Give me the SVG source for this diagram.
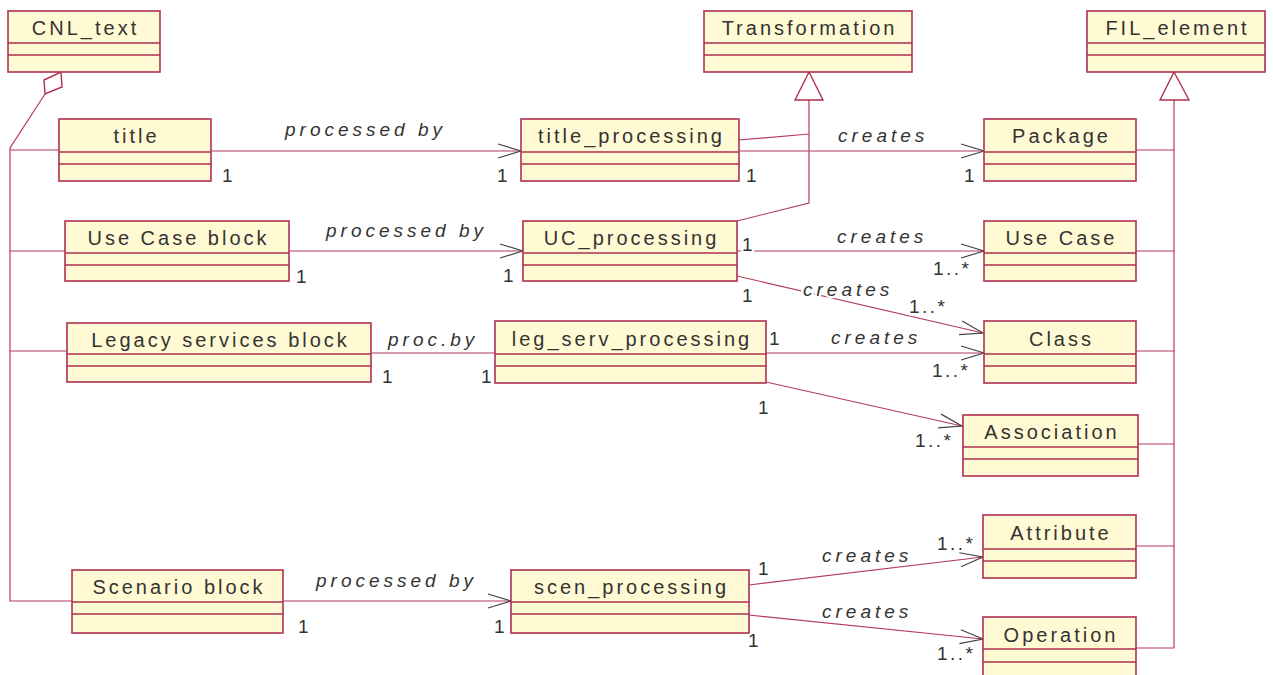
<svg xmlns="http://www.w3.org/2000/svg" width="1273" height="675" viewBox="0 0 1273 675">
<defs>
<style>
.box{fill:#FFFAD4;stroke:#B0304F;stroke-width:1.6}
.div{stroke:#B0304F;stroke-width:1.4;fill:none}
.ln{stroke:#B53A5C;stroke-width:1.2;fill:none}
.nm{font-family:"Liberation Sans",Arial,sans-serif;font-size:20px;letter-spacing:3px;fill:#333;text-anchor:middle}
.lb{font-family:"Liberation Sans",Arial,sans-serif;font-size:19px;font-style:italic;letter-spacing:4px;fill:#333}
.m{font-family:"Liberation Sans",Arial,sans-serif;font-size:19px;letter-spacing:2.5px;fill:#333}
.halo{stroke:#fff;stroke-width:5;paint-order:stroke;stroke-linejoin:round}
.tri{fill:#fff;stroke:#B0304F;stroke-width:1.4}
</style>
<marker id="arr" markerUnits="userSpaceOnUse" markerWidth="30" markerHeight="20" viewBox="-26 -10 30 20" refX="0" refY="0" orient="auto">
<path d="M-23,-7 L0,0 L-23,7" fill="none" stroke="#444" stroke-width="1.2"/>
</marker>
</defs>
<rect width="1273" height="675" fill="#fff"/>

<g id="connectors">
<!-- aggregation tree -->
<polygon points="61,72 62,87 45,94 44,80" fill="#fff" stroke="#B0304F" stroke-width="1.4"/>
<polyline class="ln" points="45,94 10,148 10,601 72,601"/>
<line class="ln" x1="10" y1="150" x2="59" y2="150"/>
<line class="ln" x1="10" y1="251" x2="65" y2="251"/>
<line class="ln" x1="10" y1="351" x2="67" y2="351"/>
<!-- Transformation generalization -->
<polyline class="ln" points="739,140 809,134"/>
<polyline class="ln" points="737,221 809,203 809,100"/>
<polygon class="tri" points="809,72 823,100 795,100"/>
<!-- FIL_element generalization -->
<line class="ln" x1="1174" y1="100" x2="1174" y2="648"/>
<polygon class="tri" points="1174,72 1189,100 1160,100"/>
<line class="ln" x1="1136" y1="150" x2="1174" y2="150"/>
<line class="ln" x1="1136" y1="251" x2="1174" y2="251"/>
<line class="ln" x1="1136" y1="351" x2="1174" y2="351"/>
<line class="ln" x1="1138" y1="444" x2="1174" y2="444"/>
<line class="ln" x1="1136" y1="546" x2="1174" y2="546"/>
<line class="ln" x1="1136" y1="648" x2="1174" y2="648"/>
<!-- associations -->
<line class="ln" x1="211" y1="151" x2="521" y2="151" marker-end="url(#arr)"/>
<line class="ln" x1="739" y1="151" x2="984" y2="151" marker-end="url(#arr)"/>
<line class="ln" x1="289" y1="251" x2="523" y2="251" marker-end="url(#arr)"/>
<line class="ln" x1="737" y1="251" x2="984" y2="251" marker-end="url(#arr)"/>
<line class="ln" x1="737" y1="276" x2="983" y2="333" marker-end="url(#arr)"/>
<line class="ln" x1="371" y1="353" x2="495" y2="353"/>
<line class="ln" x1="766" y1="353" x2="984" y2="353" marker-end="url(#arr)"/>
<line class="ln" x1="766" y1="382" x2="962" y2="426" marker-end="url(#arr)"/>
<line class="ln" x1="283" y1="601" x2="511" y2="601" marker-end="url(#arr)"/>
<line class="ln" x1="749" y1="585" x2="983" y2="557" marker-end="url(#arr)"/>
<line class="ln" x1="749" y1="615" x2="983" y2="639" marker-end="url(#arr)"/>
<!-- labels -->
<text class="lb" x="285" y="136">processed by</text>
<text class="lb halo" x="838" y="142">creates</text>
<text class="lb" x="326" y="237">processed by</text>
<text class="lb halo" x="837" y="243">creates</text>
<text class="lb halo" x="803" y="296">creates</text>
<text class="lb" x="388" y="346">proc.by</text>
<text class="lb halo" x="831" y="344">creates</text>
<text class="lb" x="316" y="587">processed by</text>
<text class="lb halo" x="822" y="562">creates</text>
<text class="lb halo" x="822" y="618">creates</text>
<!-- multiplicities -->
<text class="m" x="222" y="182">1</text>
<text class="m" x="497" y="182">1</text>
<text class="m" x="746" y="182">1</text>
<text class="m" x="964" y="182">1</text>
<text class="m" x="296" y="283">1</text>
<text class="m" x="503" y="282">1</text>
<text class="m halo" x="742" y="251">1</text>
<text class="m" x="742" y="302">1</text>
<text class="m" x="933" y="275">1..*</text>
<text class="m halo" x="909" y="313">1..*</text>
<text class="m" x="382" y="383">1</text>
<text class="m" x="481" y="383">1</text>
<text class="m" x="769" y="345">1</text>
<text class="m" x="932" y="377">1..*</text>
<text class="m" x="758" y="414">1</text>
<text class="m" x="915" y="447">1..*</text>
<text class="m" x="298" y="633">1</text>
<text class="m" x="494" y="633">1</text>
<text class="m" x="758" y="575">1</text>
<text class="m" x="748" y="647">1</text>
<text class="m" x="937" y="550">1..*</text>
<text class="m" x="937" y="660">1..*</text>
</g>

<g id="CNL_text"><rect class="box" x="8" y="11" width="152" height="61"/><path class="div" d="M8,43H160M8,55H160"/><text class="nm" x="85.5" y="35">CNL_text</text></g>
<g id="Transformation"><rect class="box" x="704" y="11" width="208" height="61"/><path class="div" d="M704,43H912M704,55H912"/><text class="nm" x="809.5" y="35">Transformation</text></g>
<g id="FIL_element"><rect class="box" x="1087" y="11" width="178" height="61"/><path class="div" d="M1087,43H1265M1087,55H1265"/><text class="nm" x="1177.5" y="35">FIL_element</text></g>
<g id="title"><rect class="box" x="59" y="119" width="152" height="62"/><path class="div" d="M59,152H211M59,164H211"/><text class="nm" x="136.5" y="143">title</text></g>
<g id="title_processing"><rect class="box" x="521" y="119" width="218" height="62"/><path class="div" d="M521,152H739M521,164H739"/><text class="nm" x="631.5" y="143">title_processing</text></g>
<g id="Package"><rect class="box" x="984" y="119" width="152" height="62"/><path class="div" d="M984,152H1136M984,164H1136"/><text class="nm" x="1061.5" y="143">Package</text></g>
<g id="Use_Case_block"><rect class="box" x="65" y="221" width="224" height="60"/><path class="div" d="M65,253H289M65,265H289"/><text class="nm" x="178.5" y="245">Use Case block</text></g>
<g id="UC_processing"><rect class="box" x="523" y="221" width="214" height="60"/><path class="div" d="M523,253H737M523,265H737"/><text class="nm" x="631.5" y="245">UC_processing</text></g>
<g id="Use_Case"><rect class="box" x="984" y="221" width="152" height="60"/><path class="div" d="M984,253H1136M984,265H1136"/><text class="nm" x="1061.5" y="245">Use Case</text></g>
<g id="Legacy_services_block"><rect class="box" x="67" y="323" width="304" height="59"/><path class="div" d="M67,354H371M67,366H371"/><text class="nm" x="220.5" y="347">Legacy services block</text></g>
<g id="leg_serv_processing"><rect class="box" x="495" y="321" width="271" height="62"/><path class="div" d="M495,354H766M495,366H766"/><text class="nm" x="632" y="346">leg_serv_processing</text></g>
<g id="Class"><rect class="box" x="984" y="321" width="152" height="62"/><path class="div" d="M984,354H1136M984,366H1136"/><text class="nm" x="1061.5" y="346">Class</text></g>
<g id="Association"><rect class="box" x="963" y="415" width="175" height="61"/><path class="div" d="M963,447H1138M963,459H1138"/><text class="nm" x="1052" y="439">Association</text></g>
<g id="Attribute"><rect class="box" x="983" y="515" width="153" height="63"/><path class="div" d="M983,549H1136M983,561H1136"/><text class="nm" x="1061" y="540">Attribute</text></g>
<g id="Scenario_block"><rect class="box" x="72" y="570" width="211" height="63"/><path class="div" d="M72,602H283M72,614H283"/><text class="nm" x="179" y="594">Scenario block</text></g>
<g id="scen_processing"><rect class="box" x="511" y="570" width="238" height="63"/><path class="div" d="M511,602H749M511,614H749"/><text class="nm" x="631.5" y="594">scen_processing</text></g>
<g id="Operation"><rect class="box" x="983" y="617" width="153" height="70"/><path class="div" d="M983,649H1136M983,662H1136"/><text class="nm" x="1061" y="642">Operation</text></g>
</svg>
